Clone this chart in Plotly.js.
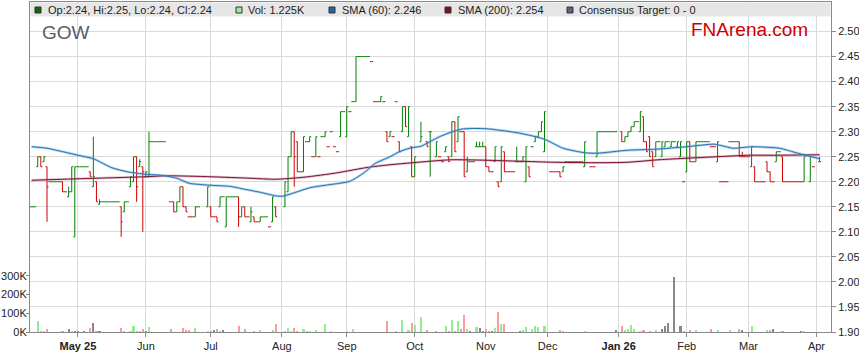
<!DOCTYPE html>
<html><head><meta charset="utf-8">
<script src="https://cdn.plot.ly/plotly-3.0.1.min.js"></script>
<style>html,body{margin:0;padding:0;background:#fff}#chart{width:859px;height:363px}</style>
</head><body><div id="chart"></div>
<script>
// ---------------- DATA ----------------
const dates = [
 '2025-04-10','2025-04-11','2025-04-14','2025-04-15','2025-04-16','2025-04-17','2025-04-18','2025-04-21','2025-04-22','2025-04-23','2025-04-24','2025-04-25','2025-04-28','2025-04-29','2025-04-30',
 '2025-05-01','2025-05-02','2025-05-05','2025-05-06','2025-05-07','2025-05-08','2025-05-09','2025-05-12','2025-05-13','2025-05-14','2025-05-15','2025-05-16','2025-05-19','2025-05-20','2025-05-21','2025-05-22','2025-05-23','2025-05-26','2025-05-27','2025-05-28','2025-05-29','2025-05-30',
 '2025-06-02','2025-06-03','2025-06-04','2025-06-05','2025-06-06','2025-06-09','2025-06-10','2025-06-12','2025-06-13','2025-06-16','2025-06-17','2025-06-18','2025-06-19','2025-06-20','2025-06-23','2025-06-24','2025-06-25','2025-06-30',
 '2025-07-01','2025-07-02','2025-07-03','2025-07-04','2025-07-07','2025-07-08','2025-07-09','2025-07-10','2025-07-11','2025-07-14','2025-07-15','2025-07-16','2025-07-17','2025-07-18','2025-07-21','2025-07-22','2025-07-23','2025-07-24','2025-07-25','2025-07-28','2025-07-29','2025-07-30',
 '2025-08-04','2025-08-05','2025-08-06','2025-08-07','2025-08-08','2025-08-11','2025-08-12','2025-08-13','2025-08-14','2025-08-15','2025-08-18','2025-08-19','2025-08-20','2025-08-21','2025-08-22','2025-08-25','2025-08-26','2025-08-27','2025-08-28','2025-08-29',
 '2025-09-01','2025-09-02','2025-09-03','2025-09-04','2025-09-05','2025-09-08','2025-09-09','2025-09-10','2025-09-11','2025-09-12','2025-09-15','2025-09-16','2025-09-17','2025-09-18','2025-09-19','2025-09-22','2025-09-23','2025-09-24','2025-09-25','2025-09-26','2025-09-29','2025-09-30',
 '2025-10-01','2025-10-03','2025-10-07','2025-10-08','2025-10-10','2025-10-13','2025-10-14','2025-10-15','2025-10-16','2025-10-17','2025-10-20','2025-10-21','2025-10-22','2025-10-23','2025-10-24','2025-10-27','2025-10-28','2025-10-29','2025-10-30','2025-10-31',
 '2025-11-03','2025-11-04','2025-11-05','2025-11-06','2025-11-07','2025-11-10','2025-11-11','2025-11-12','2025-11-13','2025-11-14','2025-11-17','2025-11-18','2025-11-19','2025-11-20','2025-11-21','2025-11-24','2025-11-25','2025-11-26','2025-11-27','2025-11-28',
 '2025-12-02','2025-12-03','2025-12-04','2025-12-05','2025-12-08','2025-12-09','2025-12-10','2025-12-11','2025-12-12','2025-12-15','2025-12-16','2025-12-17','2025-12-19','2025-12-22','2025-12-23','2025-12-24','2025-12-25','2025-12-26','2025-12-29','2025-12-30','2025-12-31',
 '2026-01-02','2026-01-05','2026-01-06','2026-01-07','2026-01-08','2026-01-09','2026-01-12','2026-01-13','2026-01-14','2026-01-15','2026-01-16','2026-01-19','2026-01-20','2026-01-21','2026-01-22','2026-01-23','2026-01-26','2026-01-27','2026-01-28','2026-01-29','2026-01-30',
 '2026-02-02','2026-02-03','2026-02-04','2026-02-05','2026-02-06','2026-02-09','2026-02-10','2026-02-11','2026-02-12','2026-02-13','2026-02-16','2026-02-17','2026-02-18','2026-02-19','2026-02-20','2026-02-23','2026-02-24','2026-02-25','2026-02-26','2026-02-27',
 '2026-03-02','2026-03-03','2026-03-04','2026-03-05','2026-03-06','2026-03-09','2026-03-10','2026-03-11','2026-03-12','2026-03-13','2026-03-16','2026-03-17','2026-03-18','2026-03-19','2026-03-20','2026-03-23','2026-03-24','2026-03-25','2026-03-26','2026-03-30','2026-03-31',
 '2026-04-02'
];
const open = [
 2.15,2.15,2.23,2.25,2.24,2.23,2.20,2.20,2.20,2.20,2.20,2.18,2.17,2.18,2.09,
 2.23,2.23,2.23,2.23,2.22,2.19,2.20,2.155,2.16,2.16,2.16,2.16,2.16,2.16,2.15,2.14,2.16,2.19,2.20,2.25,2.23,2.23,
 2.21,2.21,2.28,2.28,2.28,2.28,2.28,2.16,2.16,2.14,2.16,2.19,2.15,2.13,2.13,2.13,2.15,2.15,
 2.15,2.13,2.13,2.15,2.17,2.11,2.17,2.17,2.17,2.17,2.13,2.15,2.13,2.12,2.13,2.12,2.12,2.13,2.13,2.11,2.12,2.15,
 2.15,2.18,2.25,2.30,2.28,2.22,2.22,2.28,2.28,2.25,2.25,2.25,2.29,2.29,2.27,2.30,2.27,2.26,2.29,2.34,
 2.29,2.34,2.36,2.36,2.45,2.45,2.45,2.45,2.44,2.36,2.36,2.36,2.36,2.30,2.29,2.29,2.36,2.28,2.30,2.35,2.29,2.27,
 2.21,2.28,2.28,2.30,2.25,2.25,2.24,2.26,2.25,2.25,2.32,2.28,2.30,2.30,2.22,2.24,2.24,2.27,2.27,2.27,
 2.27,2.23,2.22,2.24,2.20,2.20,2.26,2.22,2.22,2.22,2.24,2.24,2.24,2.20,2.23,2.27,2.28,2.29,2.30,2.26,
 2.22,2.22,2.22,2.22,2.22,2.24,2.24,2.24,2.24,2.24,2.24,2.23,2.23,2.23,2.25,2.30,2.30,2.30,2.30,2.30,2.30,
 2.30,2.28,2.29,2.30,2.31,2.32,2.30,2.33,2.28,2.29,2.26,2.25,2.28,2.25,2.27,2.28,2.27,2.28,2.27,2.25,2.20,
 2.22,2.28,2.24,2.24,2.28,2.28,2.28,2.28,2.27,2.27,2.24,2.20,2.20,2.20,2.28,2.28,2.28,2.28,2.25,2.25,
 2.25,2.23,2.23,2.20,2.20,2.20,2.24,2.22,2.20,2.24,2.26,2.25,2.20,2.20,2.20,2.20,2.20,2.20,2.20,2.20,2.23,
 2.24
];
const high = [
 2.15,2.15,2.25,2.25,2.25,2.23,2.20,2.20,2.20,2.20,2.20,2.18,2.19,2.23,2.23,
 2.23,2.23,2.23,2.23,2.22,2.29,2.20,2.165,2.16,2.16,2.16,2.16,2.16,2.16,2.15,2.16,2.16,2.21,2.25,2.25,2.245,2.23,
 2.22,2.30,2.28,2.28,2.28,2.28,2.28,2.16,2.16,2.16,2.19,2.19,2.15,2.13,2.13,2.15,2.15,2.19,
 2.15,2.13,2.13,2.17,2.17,2.17,2.17,2.17,2.17,2.17,2.15,2.15,2.13,2.15,2.13,2.12,2.13,2.13,2.13,2.11,2.17,2.15,
 2.20,2.25,2.30,2.30,2.28,2.22,2.29,2.28,2.29,2.25,2.29,2.25,2.29,2.30,2.27,2.30,2.27,2.26,2.34,2.34,
 2.35,2.34,2.36,2.45,2.45,2.45,2.45,2.45,2.44,2.36,2.36,2.37,2.36,2.30,2.30,2.29,2.36,2.28,2.35,2.35,2.35,2.27,
 2.25,2.32,2.28,2.30,2.28,2.25,2.24,2.27,2.25,2.32,2.32,2.33,2.30,2.30,2.25,2.24,2.24,2.28,2.28,2.28,
 2.27,2.23,2.22,2.27,2.20,2.27,2.26,2.22,2.22,2.22,2.27,2.24,2.25,2.27,2.23,2.27,2.29,2.30,2.32,2.34,
 2.22,2.22,2.22,2.22,2.23,2.24,2.24,2.24,2.24,2.24,2.24,2.28,2.23,2.23,2.30,2.30,2.30,2.30,2.30,2.30,2.30,
 2.30,2.29,2.30,2.31,2.32,2.32,2.34,2.33,2.28,2.29,2.26,2.28,2.28,2.28,2.28,2.28,2.28,2.28,2.28,2.28,2.20,
 2.28,2.28,2.24,2.28,2.28,2.28,2.28,2.28,2.27,2.27,2.28,2.20,2.20,2.20,2.28,2.28,2.28,2.28,2.26,2.25,
 2.25,2.27,2.23,2.20,2.20,2.20,2.24,2.22,2.20,2.26,2.26,2.25,2.20,2.20,2.20,2.20,2.20,2.20,2.25,2.25,2.23,
 2.25
];
const low = [
 2.15,2.15,2.23,2.23,2.24,2.12,2.20,2.20,2.20,2.20,2.18,2.18,2.17,2.18,2.09,
 2.23,2.23,2.23,2.23,2.21,2.19,2.16,2.155,2.16,2.16,2.16,2.16,2.16,2.16,2.09,2.14,2.16,2.19,2.20,2.16,2.23,2.10,
 2.21,2.21,2.28,2.28,2.28,2.28,2.28,2.16,2.14,2.14,2.16,2.15,2.14,2.13,2.13,2.13,2.15,2.15,
 2.13,2.13,2.12,2.15,2.17,2.11,2.17,2.17,2.17,2.11,2.13,2.13,2.13,2.12,2.12,2.12,2.12,2.13,2.13,2.11,2.12,2.13,
 2.15,2.18,2.25,2.19,2.22,2.22,2.22,2.28,2.28,2.25,2.25,2.25,2.29,2.29,2.27,2.30,2.27,2.26,2.29,2.34,
 2.29,2.34,2.36,2.36,2.45,2.45,2.45,2.45,2.44,2.36,2.36,2.36,2.36,2.28,2.29,2.29,2.36,2.26,2.30,2.31,2.29,2.21,
 2.21,2.28,2.27,2.21,2.25,2.25,2.24,2.26,2.24,2.25,2.26,2.28,2.30,2.21,2.22,2.24,2.24,2.27,2.27,2.27,
 2.23,2.22,2.22,2.24,2.19,2.20,2.22,2.22,2.22,2.22,2.24,2.24,2.24,2.20,2.21,2.27,2.28,2.29,2.30,2.26,
 2.22,2.22,2.22,2.21,2.22,2.24,2.24,2.24,2.24,2.24,2.24,2.23,2.23,2.23,2.25,2.30,2.30,2.30,2.30,2.30,2.30,
 2.28,2.28,2.29,2.30,2.31,2.32,2.30,2.28,2.26,2.25,2.23,2.25,2.28,2.25,2.27,2.28,2.27,2.28,2.27,2.25,2.20,
 2.22,2.24,2.24,2.24,2.28,2.28,2.28,2.28,2.27,2.27,2.24,2.20,2.20,2.20,2.28,2.28,2.28,2.25,2.25,2.25,
 2.25,2.23,2.20,2.20,2.20,2.20,2.22,2.20,2.20,2.24,2.26,2.20,2.20,2.20,2.20,2.20,2.20,2.20,2.20,2.20,2.23,
 2.24
];
const close = [
 2.15,2.15,2.25,2.23,2.25,2.19,2.20,2.20,2.20,2.20,2.18,2.18,2.18,2.23,2.23,
 2.23,2.23,2.23,2.23,2.21,2.21,2.16,2.16,2.16,2.16,2.16,2.16,2.16,2.16,2.12,2.16,2.16,2.21,2.25,2.19,2.24,2.22,
 2.22,2.28,2.28,2.28,2.28,2.28,2.28,2.16,2.14,2.16,2.19,2.15,2.14,2.13,2.13,2.15,2.15,2.19,
 2.13,2.13,2.12,2.17,2.17,2.17,2.17,2.17,2.17,2.13,2.15,2.13,2.13,2.14,2.12,2.12,2.13,2.13,2.13,2.11,2.17,2.13,
 2.20,2.25,2.30,2.25,2.22,2.22,2.29,2.28,2.29,2.25,2.29,2.25,2.29,2.30,2.27,2.30,2.27,2.26,2.34,2.34,
 2.35,2.34,2.36,2.45,2.45,2.45,2.45,2.45,2.44,2.36,2.36,2.37,2.36,2.28,2.30,2.29,2.36,2.26,2.35,2.31,2.35,2.21,
 2.25,2.29,2.27,2.30,2.28,2.25,2.24,2.27,2.24,2.32,2.26,2.33,2.30,2.21,2.24,2.24,2.24,2.27,2.27,2.27,
 2.23,2.22,2.22,2.27,2.19,2.27,2.22,2.22,2.22,2.22,2.24,2.24,2.25,2.27,2.21,2.27,2.29,2.30,2.32,2.34,
 2.22,2.22,2.22,2.21,2.23,2.24,2.24,2.24,2.24,2.24,2.24,2.28,2.23,2.23,2.30,2.30,2.30,2.30,2.30,2.30,2.30,
 2.28,2.29,2.30,2.31,2.32,2.32,2.34,2.28,2.26,2.25,2.23,2.28,2.28,2.28,2.28,2.28,2.28,2.28,2.28,2.28,2.20,
 2.28,2.24,2.24,2.28,2.28,2.28,2.28,2.28,2.27,2.27,2.28,2.20,2.20,2.20,2.28,2.28,2.28,2.25,2.25,2.25,
 2.25,2.27,2.20,2.20,2.20,2.20,2.22,2.20,2.20,2.26,2.26,2.20,2.20,2.20,2.20,2.20,2.20,2.20,2.25,2.25,2.23,
 2.24
];
const volume = [
 0,0,59000,5000,5000,16000,0,0,0,0,5000,0,16000,5000,5000,
 5000,0,5000,0,21000,48000,5000,5000,0,0,0,0,0,0,21000,5000,0,5000,32000,5000,5000,16000,
 5000,27000,0,0,0,0,0,16000,0,0,0,21000,11000,11000,0,21000,0,5000,
 5000,11000,16000,5000,11000,0,0,0,0,32000,0,16000,0,0,5000,0,11000,0,0,0,11000,43000,
 5000,21000,5000,21000,5000,0,16000,5000,5000,0,11000,0,0,43000,0,5000,0,0,0,0,
 5000,0,16000,0,0,0,0,0,0,0,0,0,0,59000,0,0,5000,0,64000,0,11000,46000,
 37000,80000,11000,0,5000,0,0,32000,5000,64000,5000,59000,16000,91000,16000,5000,0,27000,21000,5000,
 16000,5000,5000,21000,107000,43000,43000,0,0,0,0,5000,11000,27000,0,16000,32000,27000,0,32000,
 0,0,0,11000,5000,0,0,0,0,0,0,5000,0,0,0,0,0,0,0,0,11000,
 32000,11000,16000,37000,16000,0,5000,11000,0,5000,0,11000,0,16000,32000,48000,0,295000,0,32000,5000,
 0,11000,0,11000,0,0,0,0,16000,0,11000,0,0,0,11000,0,0,16000,11000,0,
 0,32000,0,0,0,0,11000,11000,16000,0,0,5000,0,0,0,0,0,5000,5000,0,0,
 1225
];

const sma60Dates = ['2025-04-10','2025-04-17','2025-05-01','2025-05-08','2025-05-16','2025-05-23','2025-06-02','2025-06-09','2025-06-16','2025-06-20','2025-07-01','2025-07-09','2025-07-16','2025-07-23','2025-07-30','2025-08-01','2025-08-06','2025-08-14','2025-08-21','2025-09-02','2025-09-09','2025-09-12','2025-09-19','2025-09-24','2025-09-30','2025-10-03','2025-10-13','2025-10-22','2025-11-03','2025-11-18','2025-11-28','2025-12-08','2025-12-17','2025-12-23','2026-01-06','2026-01-19','2026-02-02','2026-02-13','2026-02-23','2026-03-03','2026-03-16','2026-03-24','2026-04-02'];
const sma60 = [2.270,2.267,2.253,2.246,2.228,2.220,2.215,2.213,2.207,2.197,2.193,2.191,2.185,2.179,2.172,2.171,2.176,2.188,2.193,2.201,2.220,2.236,2.250,2.260,2.268,2.271,2.290,2.305,2.306,2.297,2.285,2.267,2.258,2.257,2.263,2.265,2.270,2.275,2.267,2.270,2.267,2.257,2.246];
const sma200Dates = ['2025-04-10','2025-05-01','2025-06-02','2025-06-11','2025-07-01','2025-07-18','2025-07-30','2025-08-12','2025-08-27','2025-09-10','2025-09-19','2025-10-06','2025-10-17','2025-11-03','2025-11-18','2025-12-03','2025-12-22','2026-01-06','2026-01-20','2026-02-02','2026-02-19','2026-03-02','2026-03-13','2026-04-02'];
const sma200 = [2.203,2.206,2.210,2.212,2.210,2.207,2.205,2.209,2.218,2.229,2.234,2.240,2.244,2.243,2.241,2.239,2.238,2.239,2.244,2.247,2.251,2.253,2.253,2.254];
const consensusTarget = [0, 0];

const monthStarts = ['2025-05-01','2025-06-02','2025-07-01','2025-08-01','2025-09-01','2025-10-01','2025-11-03','2025-12-01','2026-01-01','2026-02-02','2026-03-02','2026-04-01'];
const monthLabels = ['May 25','Jun','Jul','Aug','Sep','Oct','Nov','Dec','Jan 26','Feb','Mar','Apr'];
const priceTicks = [1.90,1.95,2.00,2.05,2.10,2.15,2.20,2.25,2.30,2.35,2.40,2.45,2.50];
const volTicks = [0,100000,200000,300000];
const volTickLabels = ['0K','100K','200K','300K'];
const ticker = 'GOW';
const brand = 'FNArena.com';

// ---------------- HELPERS ----------------
[open,high,low,close,volume].forEach((a,i)=>{ if(a.length!==dates.length) throw new Error('length mismatch '+i+': '+a.length+' vs '+dates.length); });
if (sma60.length!==sma60Dates.length || sma200.length!==sma200Dates.length) throw new Error('sma mismatch');

const BASE = Date.UTC(2025,4,1), DAY = 86400000;
function wdIndex(s){
  const p = s.split('-');
  const t = Date.UTC(+p[0], +p[1]-1, +p[2]);
  let n = 0;
  if (t >= BASE) { for (let d = BASE; d < t; d += DAY) { const w = new Date(d).getUTCDay(); if (w!==0 && w!==6) n++; } }
  else { for (let d = t; d < BASE; d += DAY) { const w = new Date(d).getUTCDay(); if (w!==0 && w!==6) n--; } }
  return n;
}
const xs = dates.map(wdIndex);

const volColors = close.map((c,i)=>{
  if (i===0) return '#90ee90';
  const p = close[i-1];
  return c>p ? '#90ee90' : (c<p ? '#ff9a9a' : '#888888');
});

// plot area in pixels: x 30..831, y 2..332
const PL=30, PR=831, PT=2, PB=332;
const X = px => (px-PL)/(PR-PL);
const Y = py => (PB-py)/(PB-PT);

const last = dates.length-1;
const f2 = v => v.toFixed(2);
const legendItems = [
  {sq:'#0b6b0b', sx:35, tx:47, text:`Op:${f2(open[last])}, Hi:${f2(high[last])}, Lo:${f2(low[last])}, Cl:${f2(close[last])}`},
  {sq:'#98ee98', sx:236, tx:247, text:`Vol: ${(volume[last]/1000).toFixed(3)}K`},
  {sq:'#1f66a6', sx:329, tx:341, text:`SMA (60): ${sma60[sma60.length-1].toFixed(3)}`},
  {sq:'#7d0f2c', sx:445, tx:457, text:`SMA (200): ${sma200[sma200.length-1].toFixed(3)}`},
  {sq:'#60607e', sx:567, tx:578, text:`Consensus Target: ${consensusTarget[0]} - ${consensusTarget[1]}`}
];

const FONT = 'Liberation Sans, Arial, Helvetica, sans-serif';

const traces = [
  {type:'bar', x:xs, y:volume, yaxis:'y2', marker:{color:volColors, line:{width:0}}, width:0.7, hoverinfo:'skip', showlegend:false},
  {type:'scatter', mode:'lines', x:sma200Dates.map(wdIndex), y:sma200, line:{color:'rgba(180,100,130,0.4)', width:2.6, shape:'spline', smoothing:0.6}, hoverinfo:'skip', showlegend:false},
  {type:'scatter', mode:'lines', x:sma200Dates.map(wdIndex), y:sma200, line:{color:'#7a1232', width:1, shape:'spline', smoothing:0.6}, hoverinfo:'skip', showlegend:false},
  {type:'scatter', mode:'lines', x:sma60Dates.map(wdIndex), y:sma60, line:{color:'rgba(90,160,215,0.45)', width:2.6, shape:'spline', smoothing:0.6}, hoverinfo:'skip', showlegend:false},
  {type:'scatter', mode:'lines', x:sma60Dates.map(wdIndex), y:sma60, line:{color:'#2574b4', width:1, shape:'spline', smoothing:0.6}, hoverinfo:'skip', showlegend:false},
  {type:'ohlc', x:xs, open:open, high:high, low:low, close:close, tickwidth:0.5,
   increasing:{line:{color:'#008000', width:1}}, decreasing:{line:{color:'#d00000', width:1}},
   hoverinfo:'skip', showlegend:false}
];

const shapes = [
  {type:'rect', xref:'paper', yref:'paper', x0:X(30.5), x1:X(830.5), y0:Y(16.5), y1:Y(2.5), fillcolor:'#e6e6e6', line:{width:0}, layer:'above'}
];
const annotations = [];
legendItems.forEach(it=>{
  shapes.push({type:'rect', xref:'paper', yref:'paper', x0:X(it.sx), x1:X(it.sx+6), y0:Y(13), y1:Y(7), fillcolor:it.sq, line:{color:'#333', width:1}, layer:'above'});
  annotations.push({xref:'paper', yref:'paper', x:X(it.tx), y:Y(10), xanchor:'left', yanchor:'middle', text:it.text, showarrow:false, borderpad:0, font:{family:FONT, size:11, color:'#1e1e1e'}});
});
annotations.push({xref:'paper', yref:'paper', x:X(41), y:Y(32), xanchor:'left', yanchor:'middle', text:ticker, showarrow:false, borderpad:0, font:{family:FONT, size:19, color:'#5a5a6a'}});
annotations.push({xref:'paper', yref:'paper', x:X(690), y:Y(30), xanchor:'left', yanchor:'middle', text:brand, showarrow:false, borderpad:0, font:{family:FONT, size:19, color:'#cc0000'}});

const axisCommon = {zeroline:false, showline:true, linecolor:'#8a8a8a', linewidth:1, ticks:'outside', tickcolor:'#8a8a8a', tickfont:{family:FONT, size:11, color:'#222'}, fixedrange:true};

const layout = {
  width:859, height:363,
  margin:{l:PL, r:859-PR, t:PT, b:363-PB, pad:0},
  paper_bgcolor:'#ffffff', plot_bgcolor:'#ffffff',
  showlegend:false, hovermode:false, bargap:0,
  font:{family:FONT, size:11, color:'#222'},
  xaxis: Object.assign({}, axisCommon, {
    range:[-15.5, 243.7], tickmode:'array', tickvals:monthStarts.map(wdIndex),
    ticktext:monthLabels.map(s=> s.indexOf(' ')>0 ? '<b>'+s+'</b>' : s),
    showgrid:true, gridcolor:'#dadada', gridwidth:1, mirror:true, ticklen:4,
    rangeslider:{visible:false}
  }),
  yaxis: Object.assign({}, axisCommon, {
    side:'right', range:[1.90, 2.559], tickmode:'array', tickvals:priceTicks,
    ticktext:priceTicks.map(v=>v.toFixed(2)), showgrid:true, gridcolor:'#dadada', gridwidth:1, mirror:true, ticklen:4
  }),
  yaxis2: Object.assign({}, axisCommon, {
    overlaying:'y', side:'left', range:[0, 1765000], tickmode:'array', tickvals:volTicks, ticktext:volTickLabels,
    showgrid:false, ticklen:3, ticklabelstandoff:-3
  }),
  shapes:shapes, annotations:annotations
};

Plotly.newPlot('chart', traces, layout, {staticPlot:true, displayModeBar:false});
</script></body></html>
